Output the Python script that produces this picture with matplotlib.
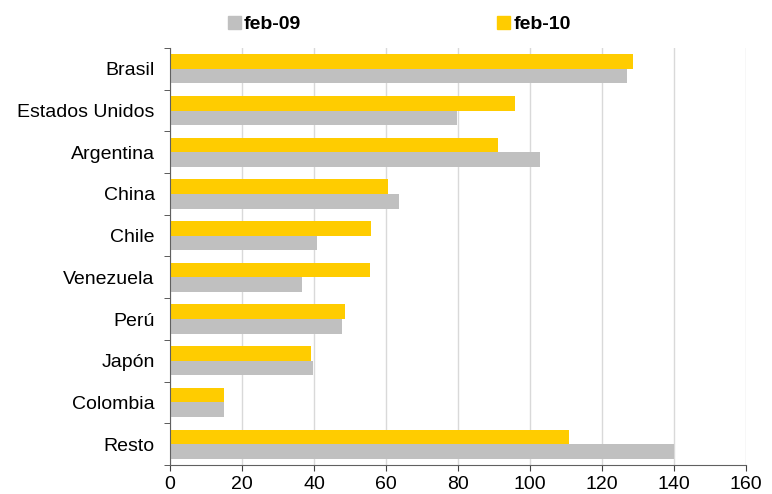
import numpy as np
import matplotlib.pyplot as plt
from matplotlib.patches import Rectangle

plt.rcParams['font.family'] = ['Liberation Sans', 'DejaVu Sans']

paises = ['Brasil', 'Estados Unidos', 'Argentina', 'China', 'Chile',
          'Venezuela', 'Perú', 'Japón', 'Colombia', 'Resto']
feb09 = [126.9, 79.7, 102.8, 63.6, 40.8, 36.7, 47.7, 39.7, 15.0, 140.0]
feb10 = [128.6, 95.9, 91.1, 60.5, 55.9, 55.5, 48.6, 39.2, 15.0, 110.9]

gris = '#c0c0c0'
amarillo = '#ffcc00'

W, H = 772, 494
fig = plt.figure(figsize=(W / 100, H / 100), dpi=100)
ax = fig.add_axes([170 / W, 1 - 465 / H, 576 / W, 417 / H])

y = np.arange(len(paises))
h = 0.35
ax.barh(y + h / 2, feb09, height=h, color=gris, label='feb-09', zorder=2)
ax.barh(y - h / 2, feb10, height=h, color=amarillo, label='feb-10', zorder=2)

ax.set_ylim(len(paises) - 0.5, -0.5)
ax.set_xlim(0, 160)
ax.set_xticks(np.arange(0, 161, 20))
ax.set_yticks(y)
ax.set_yticklabels(paises)
ax.tick_params(axis='y', length=0, labelsize=14, pad=11)
ax.set_yticks(np.arange(-0.5, len(paises)), minor=True)
ax.tick_params(axis='y', which='minor', length=4, color='#404040')
ax.tick_params(axis='x', length=4, labelsize=14, color='#404040', pad=4)

ax.grid(axis='x', color='#d9d9d9', linewidth=1, zorder=0)
for s in ['top', 'right']:
    ax.spines[s].set_visible(False)
for s in ['left', 'bottom']:
    ax.spines[s].set_color('#606060')

# leyenda arriba
fig.add_artist(Rectangle((228 / W, 1 - 29 / H), 13 / W, 13 / H, color=gris,
                         transform=fig.transFigure))
fig.text(244 / W, 1 - 29 / H, 'feb-09', fontsize=14, fontweight='bold', va='baseline')
fig.add_artist(Rectangle((497 / W, 1 - 29 / H), 13 / W, 13 / H, color=amarillo,
                         transform=fig.transFigure))
fig.text(514 / W, 1 - 29 / H, 'feb-10', fontsize=14, fontweight='bold', va='baseline')

fig.savefig('out.png', dpi=100)
